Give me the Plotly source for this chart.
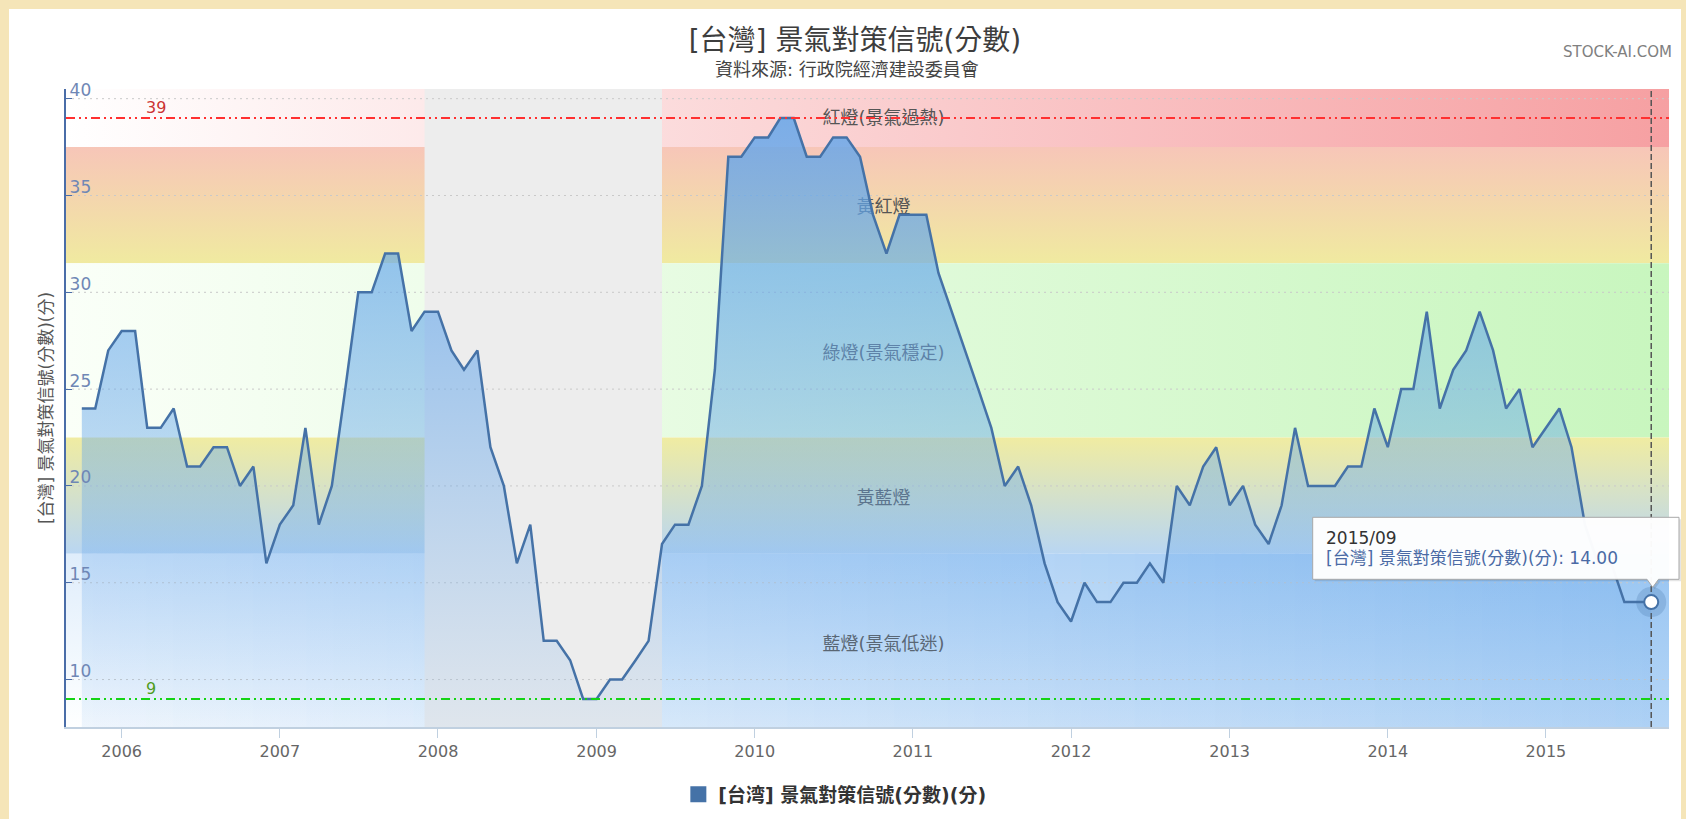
import pandas as pd
import plotly.graph_objects as go

# ---------------- data ----------------
months = pd.date_range("2005-10-01", "2015-09-01", freq="MS")
scores = [
    24, 24, 27,                                             # 2005 Oct-Dec
    28, 28, 23, 23, 24, 21, 21, 22, 22, 20, 21, 16,         # 2006
    18, 19, 23, 18, 20, 25, 30, 30, 32, 32, 28, 29,         # 2007
    29, 27, 26, 27, 22, 20, 16, 18, 12, 12, 11, 9,          # 2008
    9, 10, 10, 11, 12, 17, 18, 18, 20, 26, 37, 37,          # 2009
    38, 38, 39, 39, 37, 37, 38, 38, 37, 34, 32, 34,         # 2010
    34, 34, 31, 29, 27, 25, 23, 20, 21, 19, 16, 14,         # 2011
    13, 15, 14, 14, 15, 15, 16, 15, 20, 19, 21, 22,         # 2012
    19, 20, 18, 17, 19, 23, 20, 20, 20, 21, 21, 24,         # 2013
    22, 25, 25, 29, 24, 26, 27, 29, 27, 24, 25, 22,         # 2014
    23, 24, 22, 18, 16, 16, 14, 14, 14,                     # 2015 Jan-Sep
]
series_name = "[台灣] 景氣對策信號(分數)(分)"
legend_name = "[台湾] 景氣對策信號(分數)(分)"

band_edges = [16.5, 22.5, 31.5, 37.5]
band_labels = ["藍燈(景氣低迷)", "黃藍燈", "綠燈(景氣穩定)", "黃紅燈", "紅燈(景氣過熱)"]
band_label_y = [11.75, 19.3, 26.8, 34.35, 38.9]
red_line, green_line = 39, 9
recession = ["2007-12-01", "2009-06-01"]
y_ticks = [10, 15, 20, 25, 30, 35, 40]

# ---------------- layout constants ----------------
X_RANGE = [pd.Timestamp("2005-08-25 12:00"), pd.Timestamp("2015-10-12")]
Y_RANGE = [7.55, 40.5]
W, H = 1672, 810
ML, MR, MT, MB = 57, 12, 80, 92
PW, PH = W - ML - MR, H - MT - MB
FONT = "DejaVu Sans, Noto Sans CJK TC, sans-serif"
LINE_BLUE = "#4572a7"


def rgb(c):
    return "rgb(%d,%d,%d)" % tuple(int(round(v)) for v in c)


def lerp(a, b, t):
    return tuple(a[i] + (b[i] - a[i]) * t for i in range(3))


def px(xf):  # page x -> paper x
    return (xf - 9 - ML) / PW


def py(yf):  # page y -> paper y
    return 1 - (yf - 9 - MT) / PH


WHITE = (255, 255, 255)
fig = go.Figure()


def rect(x0, x1, y0, y1, **kw):
    fig.add_trace(go.Scatter(
        x=[x0, x1, x1, x0, x0], y=[y0, y0, y1, y1, y0], mode="none",
        fill="toself", hoverinfo="skip", showlegend=False, **kw))


xa, xb = X_RANGE
yb_lo, yb_hi = 6.0, 42.0

# red band: horizontal gradient
rect(xa, xb, band_edges[3], yb_hi,
     fillgradient=dict(type="horizontal",
                       colorscale=[[0, rgb(WHITE)], [1, rgb((246, 160, 162))]]))
# yellow-red band: vertical gradient
rect(xa, xb, band_edges[2], band_edges[3],
     fillgradient=dict(type="vertical",
                       colorscale=[[0, rgb((240, 234, 160))], [1, rgb((247, 198, 184))]]))
# green band: horizontal gradient
rect(xa, xb, band_edges[1], band_edges[2],
     fillgradient=dict(type="horizontal",
                       colorscale=[[0, rgb((250, 255, 248))], [1, rgb((200, 246, 190))]]))
# yellow-blue band: vertical gradient
rect(xa, xb, band_edges[0], band_edges[1],
     fillgradient=dict(type="vertical",
                       colorscale=[[0, rgb((185, 214, 242))], [1, rgb((240, 236, 162))]]))
# blue band: diagonal gradient (built from thin vertical strips)
N = 60
B = (150, 196, 242)
span = xb - xa
for k in range(N):
    s0 = xa + span * k / N
    s1 = xa + span * (k + 1.15) / N
    u = (k + 0.5) / N
    tb, tt = 0.7 * u, 0.7 * u + 0.3
    rect(s0, min(s1, xb), yb_lo, band_edges[0],
         fillgradient=dict(type="vertical", start=Y_RANGE[0], stop=band_edges[0],
                           colorscale=[[0, rgb(lerp(WHITE, B, tb))],
                                       [1, rgb(lerp(WHITE, B, tt))]]))

# recession shading
rect(pd.Timestamp(recession[0]), pd.Timestamp(recession[1]), yb_lo, yb_hi,
     fillcolor="#ededed")

# dotted grid lines (above bands, below series)
for yv in y_ticks:
    fig.add_trace(go.Scatter(x=[xa, xb], y=[yv, yv], mode="lines",
                             line=dict(color="#c9c9c9", width=1, dash="2px,4px"),
                             hoverinfo="skip", showlegend=False))

# band labels (under the series)
fig.add_trace(go.Scatter(
    x=[pd.Timestamp("2010-10-25")] * len(band_labels), y=band_label_y,
    mode="text", text=band_labels, textposition="middle center",
    textfont=dict(family=FONT, size=18, color="#555555"),
    hoverinfo="skip", showlegend=False))

# main area series
fig.add_trace(go.Scatter(
    x=months, y=scores, mode="lines", name=series_name,
    line=dict(color=LINE_BLUE, width=2.5),
    fill="tozeroy",
    fillgradient=dict(type="vertical", start=Y_RANGE[0], stop=Y_RANGE[1],
                      colorscale=[[0, "rgba(110,170,235,0.11)"],
                                  [1, "rgba(95,165,235,0.86)"]]),
    showlegend=False, hoverinfo="skip"))

# plot lines 39 / 9
DASH = "9px,4px,2px,4px,2px,4px"
fig.add_trace(go.Scatter(x=[xa, xb], y=[red_line] * 2, mode="lines",
                         line=dict(color="#ff3030", width=2, dash=DASH),
                         hoverinfo="skip", showlegend=False))
fig.add_trace(go.Scatter(x=[xa, xb], y=[green_line] * 2, mode="lines",
                         line=dict(color="#14d414", width=2, dash=DASH),
                         hoverinfo="skip", showlegend=False))

# crosshair at last point
fig.add_trace(go.Scatter(x=[months[-1], months[-1]], y=[Y_RANGE[0], Y_RANGE[1]],
                         mode="lines", line=dict(color="#555555", width=1.5, dash="6px,3px"),
                         hoverinfo="skip", showlegend=False))
# hovered marker
fig.add_trace(go.Scatter(x=[months[-1]], y=[scores[-1]], mode="markers",
                         marker=dict(size=30, color="rgba(69,114,167,0.25)"),
                         hoverinfo="skip", showlegend=False))
fig.add_trace(go.Scatter(x=[months[-1]], y=[scores[-1]], mode="markers",
                         marker=dict(size=14, color="white",
                                     line=dict(color=LINE_BLUE, width=2)),
                         hoverinfo="skip", showlegend=False))

# legend entry
fig.add_trace(go.Scatter(x=[None], y=[None], mode="markers", name=legend_name,
                         marker=dict(symbol="square", size=16, color=LINE_BLUE),
                         showlegend=True))

# ---------------- tooltip (static) ----------------
bx0, bx1, by0, by1 = px(1312.7), px(1679), py(579.3), py(517.3)
pl, pr, pa, pay = px(1647), px(1658.5), px(1652.7), py(587.3)


def tip_path(dx=0.0, dy=0.0):
    pts = [(bx0, by1), (bx1, by1), (bx1, by0), (pr, by0), (pa, pay), (pl, by0), (bx0, by0)]
    return "M" + " L".join("%.5f,%.5f" % (x + dx, y + dy) for x, y in pts) + " Z"


shapes = [
    dict(type="path", xref="paper", yref="paper", layer="above",
         path=tip_path(2 / PW, -2 / PH), fillcolor="rgba(0,0,0,0.10)", line=dict(width=0)),
    dict(type="path", xref="paper", yref="paper", layer="above",
         path=tip_path(), fillcolor="rgba(255,255,255,0.97)",
         line=dict(color="#a8a8a8", width=1)),
]

annotations = [
    dict(text=months[-1].strftime("%Y/%m"), xref="paper", yref="paper",
         x=px(1324), y=py(538.3), xanchor="left", yanchor="middle", showarrow=False,
         font=dict(family=FONT, size=17, color="#333333")),
    dict(text="%s: %.2f" % (series_name, scores[-1]), xref="paper", yref="paper",
         x=px(1324), y=py(557.5), xanchor="left", yanchor="middle", showarrow=False,
         font=dict(family=FONT, size=17, color="#4a6aa5")),
    # plot line labels
    dict(text=str(red_line), xref="paper", yref="y", x=px(156.3), y=red_line,
         xanchor="center", yanchor="middle", yshift=10.5, showarrow=False,
         font=dict(family=FONT, size=16, color="#cc3333")),
    dict(text=str(green_line), xref="paper", yref="y", x=px(150.5), y=green_line,
         xanchor="center", yanchor="middle", yshift=10.5, showarrow=False,
         font=dict(family=FONT, size=16, color="#4f9c1c")),
    # subtitle and credit
    dict(text="資料來源: 行政院經濟建設委員會", xref="paper", yref="paper",
         x=px(847), y=py(69.7), xanchor="center", yanchor="middle", showarrow=False,
         font=dict(family=FONT, size=18, color="#444444")),
    dict(text="STOCK-AI.COM", xref="paper", yref="paper",
         x=px(1674), y=py(51.7), xanchor="right", yanchor="middle", showarrow=False,
         font=dict(family=FONT, size=15, color="#808080")),
]

fig.update_layout(
    width=W, height=H, autosize=False,
    margin=dict(l=ML, r=MR, t=MT, b=MB, pad=0, autoexpand=False),
    paper_bgcolor="white", plot_bgcolor="white",
    title=dict(text="[台灣] 景氣對策信號(分數)", xref="container", yref="container",
               x=846 / W, y=1 - 31.5 / H, xanchor="center", yanchor="middle",
               font=dict(family=FONT, size=28, color="#3d3d3d")),
    font=dict(family=FONT),
    showlegend=True,
    legend=dict(orientation="h", x=0.382, y=py(794.5), xanchor="left", yanchor="middle",
                bgcolor="rgba(0,0,0,0)", itemsizing="trace",
                font=dict(family=FONT, size=19, color="#333333", weight="bold")),
    shapes=shapes,
    annotations=annotations,
    hovermode=False,
)

fig.update_xaxes(
    range=X_RANGE, type="date", showgrid=False, zeroline=False,
    showline=True, linecolor="#c0d0e0", linewidth=2,
    ticks="outside", ticklen=9, tickwidth=1, tickcolor="#c0d0e0",
    tick0="2006-01-01", dtick="M12", tickformat="%Y",
    tickfont=dict(family=FONT, size=16, color="#666666"),
)
fig.update_yaxes(
    range=Y_RANGE, showgrid=False, zeroline=False,
    showline=True, linecolor="#4a6da8", linewidth=2,
    tickvals=y_ticks, ticks="inside", ticklen=6, tickwidth=1, tickcolor="#4a6da8",
    ticklabelposition="inside top", ticklabeloverflow="allow",
    ticklabelshift=4, ticklabelstandoff=3,
    tickfont=dict(family=FONT, size=17, color="#6f87b5"),
    title=dict(text=series_name, standoff=13,
               font=dict(family=FONT, size=17, color="#555555")),
)

fig.write_html(
    "out.html",
    post_script="document.body.style.margin='9px 0 0 9px';"
                "document.body.style.background='#f5e5b8';"
                "document.body.style.overflow='hidden';",
)
